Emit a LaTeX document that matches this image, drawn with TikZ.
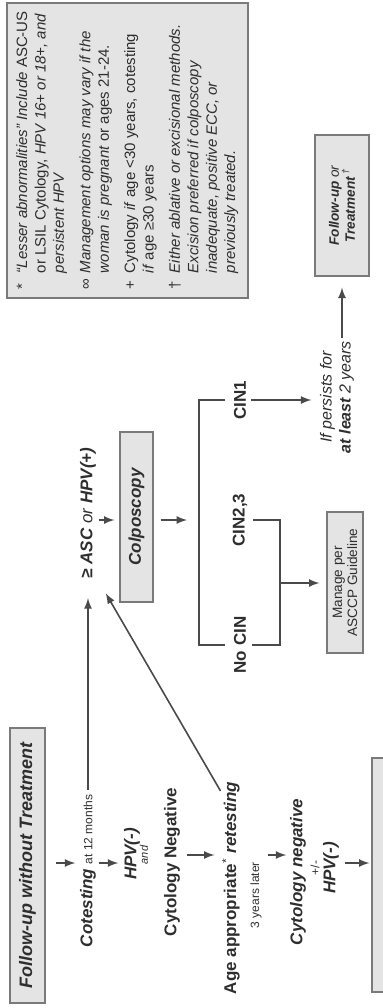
\documentclass[tikz,border=0pt]{standalone}
\usepackage{fontspec}
\setmainfont{Liberation Sans}
\usetikzlibrary{calc}
\definecolor{ink}{HTML}{2E2E2E}
\definecolor{rule}{HTML}{4A4A4A}
\definecolor{boxfill}{HTML}{E4E4E4}
\definecolor{boxline}{HTML}{7A7A7A}

\begin{document}
\begin{tikzpicture}[>=latex, line width=0.8pt, x=0.5pt, y=-0.5pt, color=rule,
    every node/.style={rotate=90, text=ink, inner sep=1pt},
    box/.style={draw=boxline, fill=boxfill, line width=0.6pt},
    bigbi/.style={font=\fontsize{8.5}{10}\selectfont\bfseries\itshape},
    bigb/.style={font=\fontsize{8.5}{10}\selectfont\bfseries},
    tiny/.style={font=\fontsize{6}{7}\selectfont}]
    \useasboundingbox (0,0) rectangle (382,1008);

    \draw (127.5,150.5) node[box, minimum width=147.5pt, minimum height=120.5pt, font=\fontsize{7.5}{9.2}\selectfont, name=NT]{%
        \begin{tabular}{@{}l@{\hspace{3pt}}l@{}}
            * & \textit{“Lesser abnormalities” Include} ASC-US\\
              & or LSIL Cytology, \textit{HPV 16+ or 18+, and}\\
              & \textit{persistent HPV}\\[4pt]
            ∞ & \textit{Management options may vary if the}\\
              & \textit{woman is pregnant} or ages 21-24.\\[4pt]
            + & Cytology \textit{if} age <30 years, cotesting\\
              & \textit{if} age ≥30 years\\[4pt]
            † & \textit{Either ablative or excisional methods.}\\
              & \textit{Excision preferred if colposcopy}\\
              & \textit{inadequate, positive ECC, or}\\
              & \textit{previously treated.}
        \end{tabular}};

    \draw (27.5,865.5) node[box, minimum width=137.5pt, minimum height=17.5pt, font=\fontsize{9}{10}\selectfont\bfseries\itshape, name=FU]{Follow-up without Treatment};
    \coordinate (M) at (0,863);
    \coordinate (M2) at (0,855);
    \draw (88,950) node[anchor=west, bigbi, name=CT]{Cotesting {\fontsize{6}{7}\selectfont\mdseries\upshape at 12 months}};
    \draw (132,854) node[bigbi, name=HP1]{HPV(-)};
    \draw (144,855) node[tiny, font=\fontsize{5.5}{6}\selectfont\itshape, name=AND]{and};
    \draw (172,862) node[bigb, name=CYN]{Cytology Negative};
    \draw (231,997) node[anchor=west, bigb, name=AR]{Age appropriate\textsuperscript{\mdseries *} \itshape retesting};
    \draw (256,895) node[tiny, name=LT]{3 years later};
    \draw (298,872) node[bigbi, name=CY2]{Cytology negative};
    \draw (315,868) node[tiny, name=PM]{+/-};
    \draw (331,868) node[bigbi, name=HP2]{HPV(-)};
    \draw (386,875) node[box, minimum width=117pt, minimum height=14pt, name=NX]{};

    \draw[->, shorten <=5pt, shorten >=1pt] (FU.south |- M) -- (CT.north |- M);
    \draw[->, shorten <=0pt, shorten >=1.5pt] (CT.south |- M) -- (HP1.north |- M);
    \draw[->, shorten <=2pt, shorten >=2.5pt] (CYN.south |- M2) -- (AR.north |- M2);
    \draw[->, shorten <=2pt, shorten >=0.5pt] (LT.south |- M2) -- (CY2.north |- M2);
    \draw[->, shorten <=1.5pt, shorten >=1pt] (HP2.south |- M) -- (NX.north |- M);

    \draw (88,513) node[bigbi, name=ASC]{≥ ASC {\mdseries or} HPV(+)};
    \draw[->, shorten <=1pt, shorten >=8.5pt] (CT.east) -- (CT.east |- ASC.west);
    \draw[->, shorten >=7pt] ($(AR.north east)+(1,12)$) -- (ASC.south west);

    \coordinate (Q) at (0,520);
    \draw (136.5,517) node[box, minimum width=85pt, minimum height=16.5pt, bigbi, name=COL]{Colposcopy};
    \draw[->, shorten >=2.5pt] (ASC.south |- Q) -- (COL.north |- Q);
    \coordinate (BL) at (199,520);
    \draw[->, shorten <=3.5pt, shorten >=6pt] (COL.south |- Q) -- (BL);

    \draw (240,400) node[bigb, name=C1]{CIN1};
    \draw (240,520) node[bigb, name=C23]{CIN2,3};
    \draw (240,645) node[bigb, name=C0]{No CIN};
    \draw ([xshift=-3pt]C1.north) -| (BL) |- ([xshift=-3pt]C0.north);

    \coordinate (BR) at (280,583);
    \draw ([xshift=1.5pt]C23.south) -| (BR) |- ([xshift=1.5pt]C0.south);
    \draw (345,582.5) node[box, minimum width=70.5pt, minimum height=18pt, align=center, font=\fontsize{6.8}{7.6}\selectfont, name=MG]{Manage per\\ASCCP Guideline};
    \draw[->, shorten >=3.5pt] (BR) -- (MG.north |- BR);

    \draw (337,397) node[align=center, font=\fontsize{8}{9.4}\selectfont\itshape, name=PS]{If persists for\\ \textbf{at least} 2 years};
    \draw[->, shorten <=1pt, shorten >=3pt] (C1.south) -- (PS.north |- C1.south);
    \draw (342,205.5) node[box, minimum width=70.5pt, minimum height=27pt, align=center, font=\fontsize{6.8}{8}\selectfont\itshape, name=FT]{\textbf{Follow-up} or\\ \textbf{Treatment}\,\textsuperscript{†}};
    \draw[->, shorten >=5.5pt] (FT.center |- PS.east) -- (FT.west);
\end{tikzpicture}
\end{document}
